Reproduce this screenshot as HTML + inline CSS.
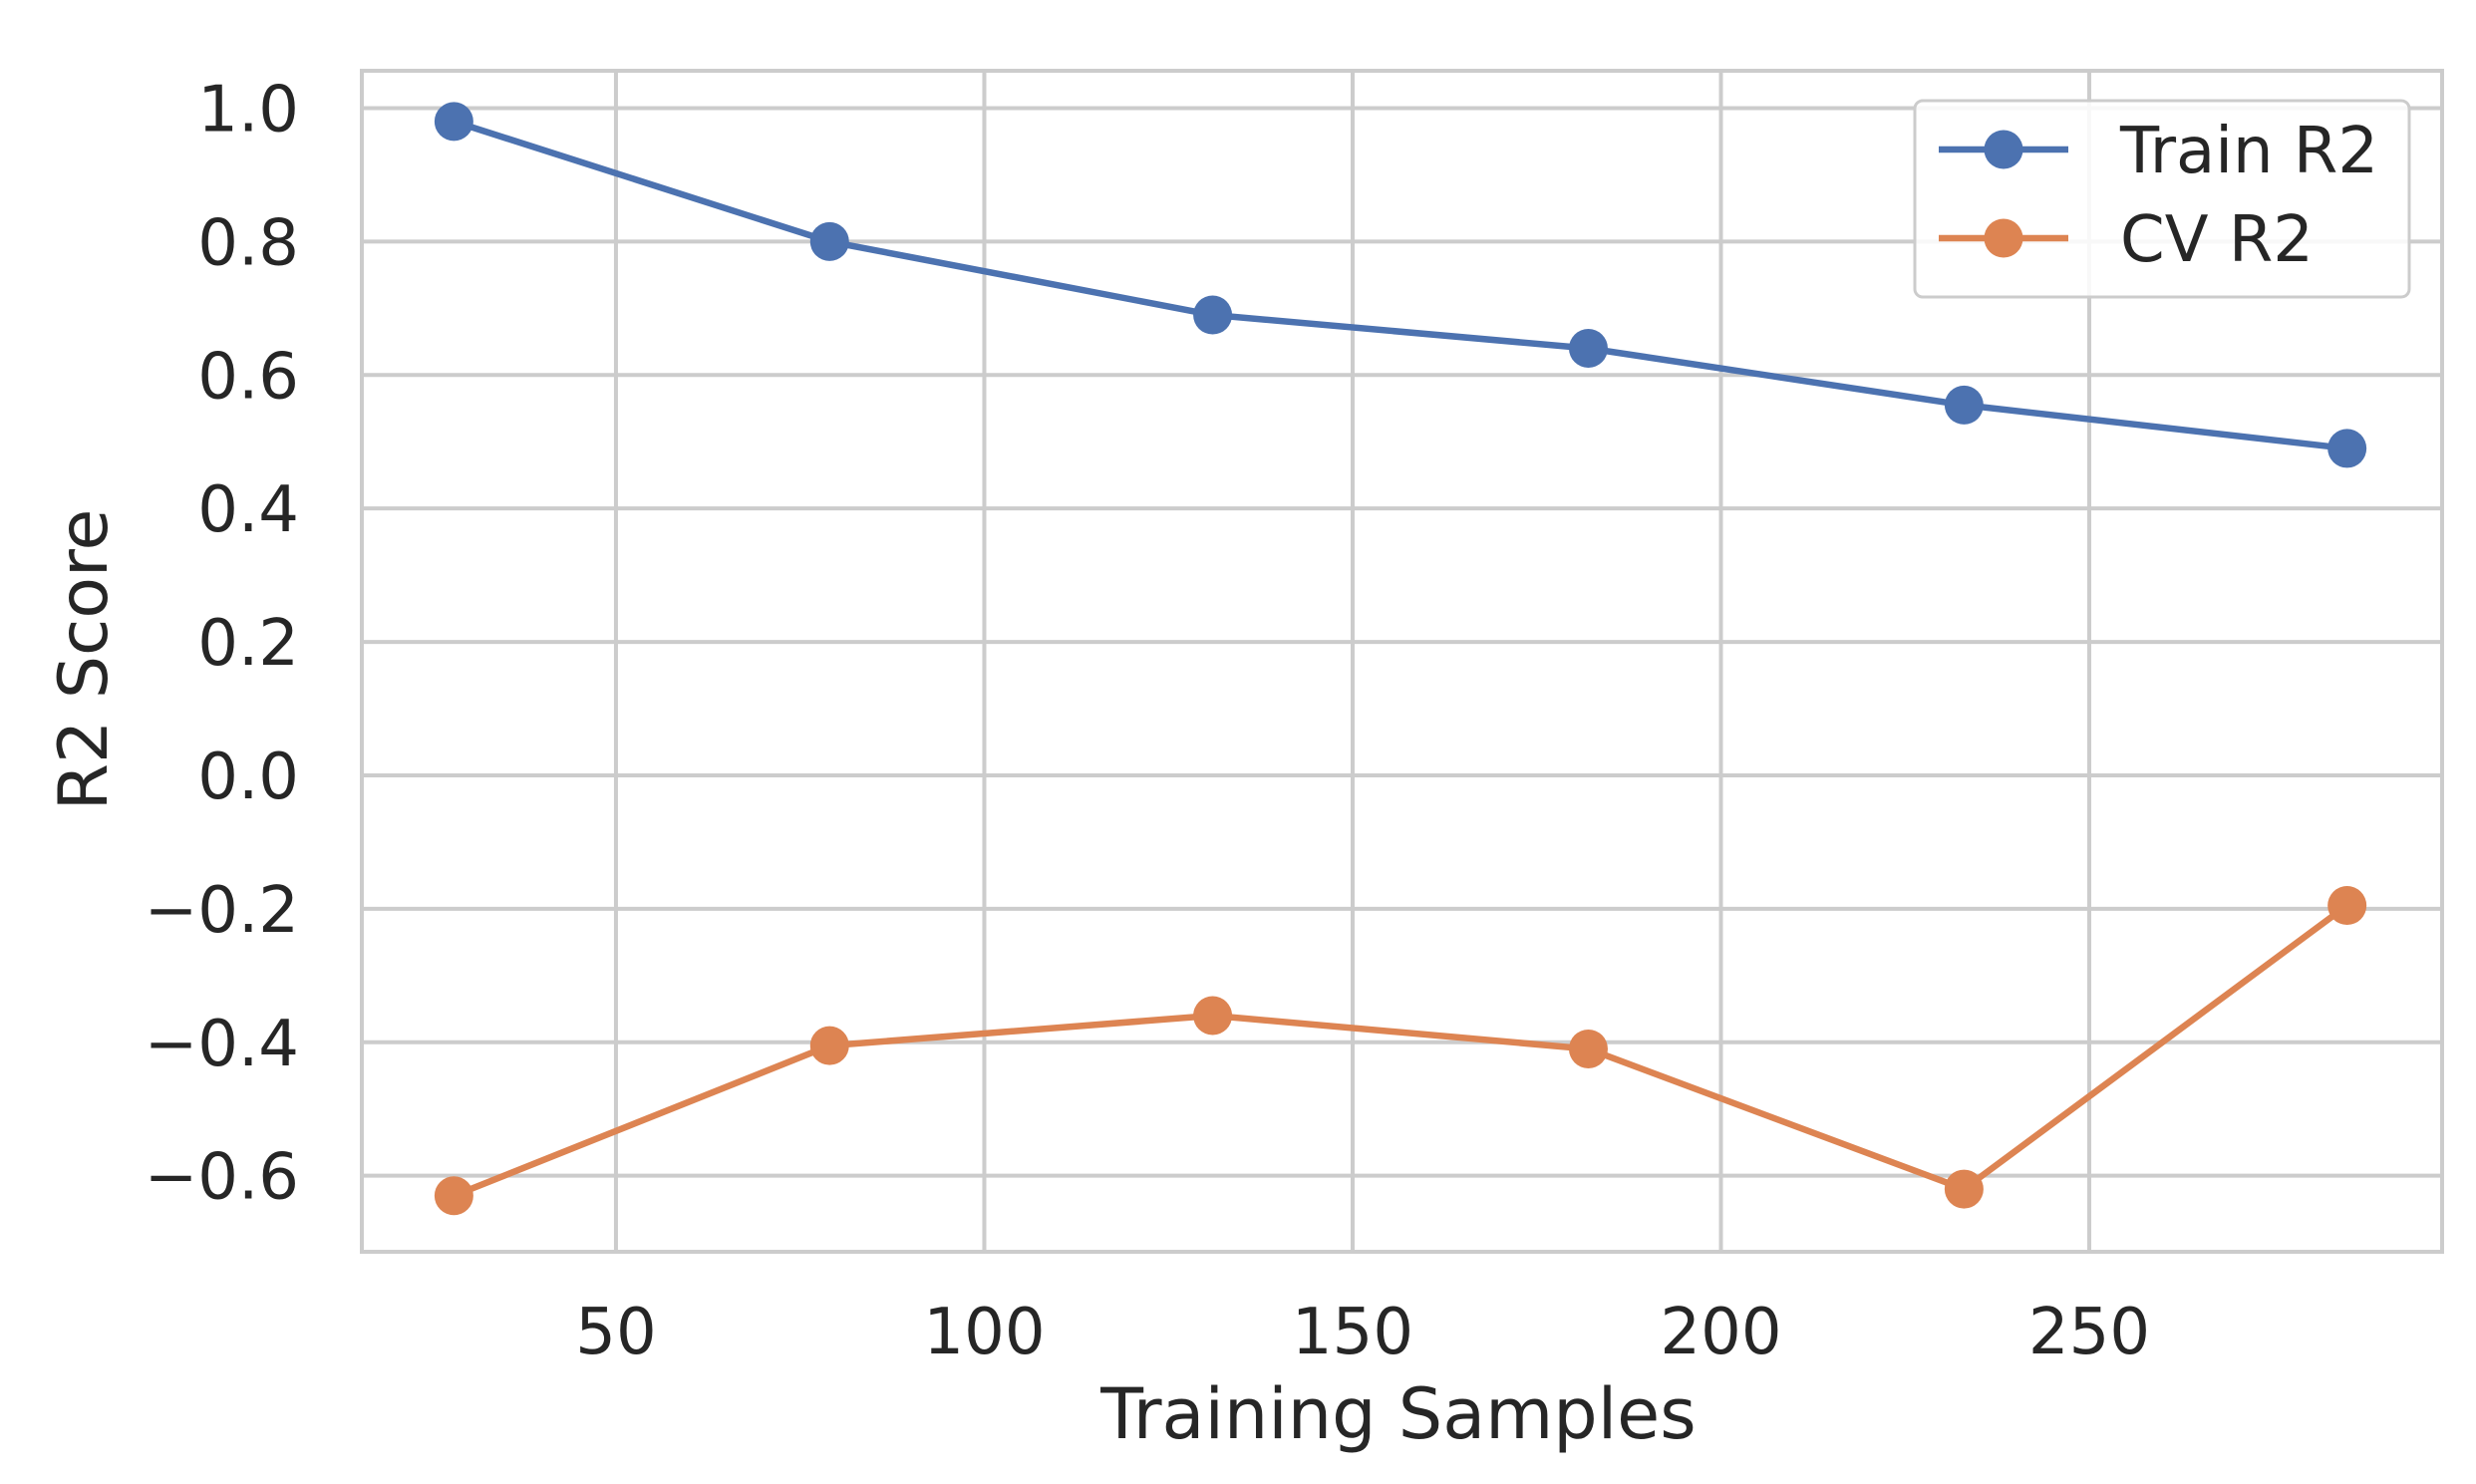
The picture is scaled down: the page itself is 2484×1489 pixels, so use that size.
<!DOCTYPE html>
<html><head><meta charset="utf-8"><style>
html,body{margin:0;padding:0;background:#fff;}
svg text{font-family:"DejaVu Sans","Liberation Sans",sans-serif;fill:#262626;}
</style></head><body>
<svg id="chart" width="2484" height="1484" viewBox="0 0 2484 1484" xmlns="http://www.w3.org/2000/svg">
<g id="grid"></g><g id="axes"></g><g id="series"></g><g id="legend"></g>
</svg>
<script>
const xValues = [28, 79, 131, 182, 233, 285];
const trainR2 = [0.98, 0.80, 0.69, 0.64, 0.555, 0.49];
const cvR2 = [-0.63, -0.405, -0.36, -0.41, -0.62, -0.195];
const xTicks = [50, 100, 150, 200, 250];
const yTicks = [1.0, 0.8, 0.6, 0.4, 0.2, 0.0, -0.2, -0.4, -0.6];
const yTickLabels = ["1.0", "0.8", "0.6", "0.4", "0.2", "0.0", "\u22120.2", "\u22120.4", "\u22120.6"];
const seriesNames = ["Train R2", "CV R2"];

const L = 363, R = 2450, T = 71, B = 1256;
const xMin = 15.5, xMax = 297.9, yMin = -0.714, yMax = 1.056;
const sx = v => L + (v - xMin) / (xMax - xMin) * (R - L);
const sy = v => B - (v - yMin) / (yMax - yMin) * (B - T);
const NS = "http://www.w3.org/2000/svg";
function mk(tag, attrs, parent, text) {
  const e = document.createElementNS(NS, tag);
  for (const k in attrs) e.setAttribute(k, attrs[k]);
  if (text !== undefined) e.textContent = text;
  parent.appendChild(e);
  return e;
}
const grid = document.getElementById('grid');
const axes = document.getElementById('axes');
const series = document.getElementById('series');
const legend = document.getElementById('legend');

xTicks.forEach(t => {
  const ln = mk('line', {x1: sx(t), x2: sx(t), y1: T, y2: B, stroke: '#cccccc', 'stroke-width': 4}, grid);
  
  
  const tx = mk('text', {x: sx(t), y: 1358, 'text-anchor': 'middle', 'font-size': 64}, axes, String(t));
  
  
});
yTicks.forEach((t, i) => {
  const ln = mk('line', {x1: L, x2: R, y1: sy(t), y2: sy(t), stroke: '#cccccc', 'stroke-width': 4}, grid);
  
  
  const tx = mk('text', {x: 300, y: sy(t) + 23, 'text-anchor': 'end', 'font-size': 64}, axes, yTickLabels[i]);
  
  
});
const frame = mk('rect', {x: L, y: T, width: R - L, height: B - T, fill: 'none', stroke: '#cccccc', 'stroke-width': 4}, axes);


const xl = mk('text', {x: 1403, y: 1443, 'text-anchor': 'middle', 'font-size': 70}, axes, 'Training Samples');


const yl = mk('text', {x: 0, y: 0, 'text-anchor': 'middle', 'font-size': 68, transform: 'translate(107,662) rotate(-90)'}, axes, 'R2 Score');



const colors = ['#4c72b0', '#dd8452'];
[trainR2, cvR2].forEach((vals, si) => {
  const g = mk('g', {}, series);
  
  
  const pts = vals.map((v, i) => sx(xValues[i]) + ',' + sy(v)).join(' ');
  const pl = mk('polyline', {points: pts, fill: 'none', stroke: colors[si], 'stroke-width': 6.5, 'stroke-linejoin': 'round'}, g);
  
  
  vals.forEach((v, i) => {
    const c = mk('circle', {cx: sx(xValues[i]), cy: sy(v), r: 19.5, fill: colors[si]}, g);
    
    
  });
});

const box = mk('rect', {x: 1921, y: 101, width: 496, height: 197, rx: 8, fill: '#ffffff', 'fill-opacity': 0.85, stroke: '#cccccc', 'stroke-width': 3}, legend);


[150, 239].forEach((y, si) => {
  const g = mk('g', {}, legend);
  
  
  mk('line', {x1: 1945, x2: 2075, y1: y, y2: y, stroke: colors[si], 'stroke-width': 6.5}, g);
  mk('circle', {cx: 2010, cy: y, r: 19.5, fill: colors[si]}, g);
  mk('text', {x: 2127, y: y + 23, 'font-size': 64}, g, seriesNames[si]);
});
</script>
</body></html>
